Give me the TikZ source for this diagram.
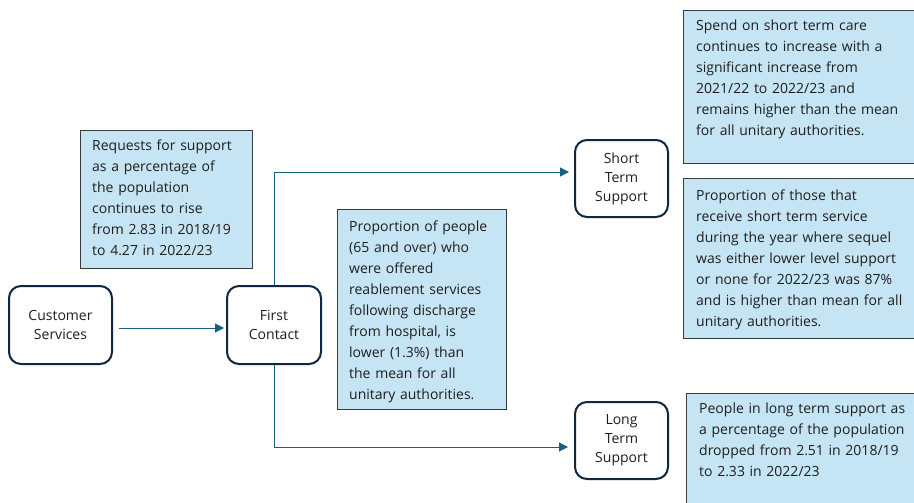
\documentclass[tikz,border=0pt]{standalone}
\usepackage{fontspec}
\setmainfont{Open Sans}
\usetikzlibrary{arrows.meta}
\definecolor{navy}{HTML}{0E2841}
\definecolor{linkblue}{HTML}{156082}
\definecolor{boxfill}{HTML}{C6E5F4}
\definecolor{boxline}{HTML}{3A3A3A}
\definecolor{txt}{HTML}{1E1E1E}
\tikzset{
  stage/.style={draw=navy, line width=2pt, rounded corners=12pt, fill=white,
    align=center, text=txt, inner sep=0pt,
    font=\fontsize{14pt}{19pt}\selectfont},
  infobox/.style={draw=boxline, line width=1pt, fill=boxfill, anchor=north west,
    inner sep=0pt},
  infotext/.style={anchor=north west, inner sep=0pt, text width=260pt, align=left,
    text=txt, font=\fontsize{14pt}{21pt}\selectfont},
  link/.style={draw=linkblue, line width=1pt, -{Triangle[length=9pt,width=9pt]}}
}
\begin{document}
\begin{tikzpicture}[x=1pt,y=-1pt]
\clip (0,0) rectangle (914,503);
\fill[white] (0,0) rectangle (914,503);

% info boxes
\node[infobox, minimum width=172pt, minimum height=138pt] (reqbox) at (80,130) {};
\node[infobox, minimum width=169pt, minimum height=200pt] (pbox) at (337,209) {};
\node[infobox, minimum width=240pt, minimum height=153pt] (spendbox) at (683,10) {};
\node[infobox, minimum width=240pt, minimum height=160pt] (shortbox) at (683,178) {};
\node[infobox, minimum width=240pt, minimum height=140pt] (peoplebox) at (686,393) {};

\node[infotext] (reqtext) at (92,140) {Requests for support\\as a percentage of\\the population\\continues to rise\\from 2.83 in 2018/19\\to 4.27 in 2022/23};
\node[infotext] (ptext) at (349,221) {Proportion of people\\(65 and over) who\\were offered\\reablement services\\following discharge\\from hospital, is\\lower (1.3\%) than\\the mean for all\\unitary authorities.};
\node[infotext] (spendtext) at (696,20) {Spend on short term care\\continues to increase with a\\significant increase from\\2021/22 to 2022/23 and\\remains higher than the mean\\for all unitary authorities.};
\node[infotext] (shorttext) at (696,190) {Proportion of those that\\receive short term service\\during the year where sequel\\was either lower level support\\or none for 2022/23 was 87\%\\and is higher than mean for all\\unitary authorities.};
\node[infotext] (peopletext) at (699,403) {People in long term support as\\a percentage of the population\\dropped from 2.51 in 2018/19\\to 2.33 in 2022/23};

% stages
\node[stage, minimum width=103pt, minimum height=78pt] (cs) at (60.5,325) {Customer\\Services};
\node[stage, minimum width=94pt, minimum height=78pt] (fc) at (274,325) {First\\Contact};
\node[stage, minimum width=93pt, minimum height=77pt] (st) at (621.5,178.5) {Short\\Term\\Support};
\node[stage, minimum width=93pt, minimum height=77pt] (lt) at (621.5,440.5) {Long\\Term\\Support};

% connectors
\draw[link] ([xshift=6pt,yshift=-3pt]cs.east) -- ([xshift=-2pt,yshift=-3pt]fc.west);
\draw[link] (fc.north) |- ([xshift=-5pt,yshift=6.5pt]st.west);
\draw[link] (fc.south) |- ([xshift=-6pt,yshift=-6.5pt]lt.west);
\end{tikzpicture}
\end{document}
